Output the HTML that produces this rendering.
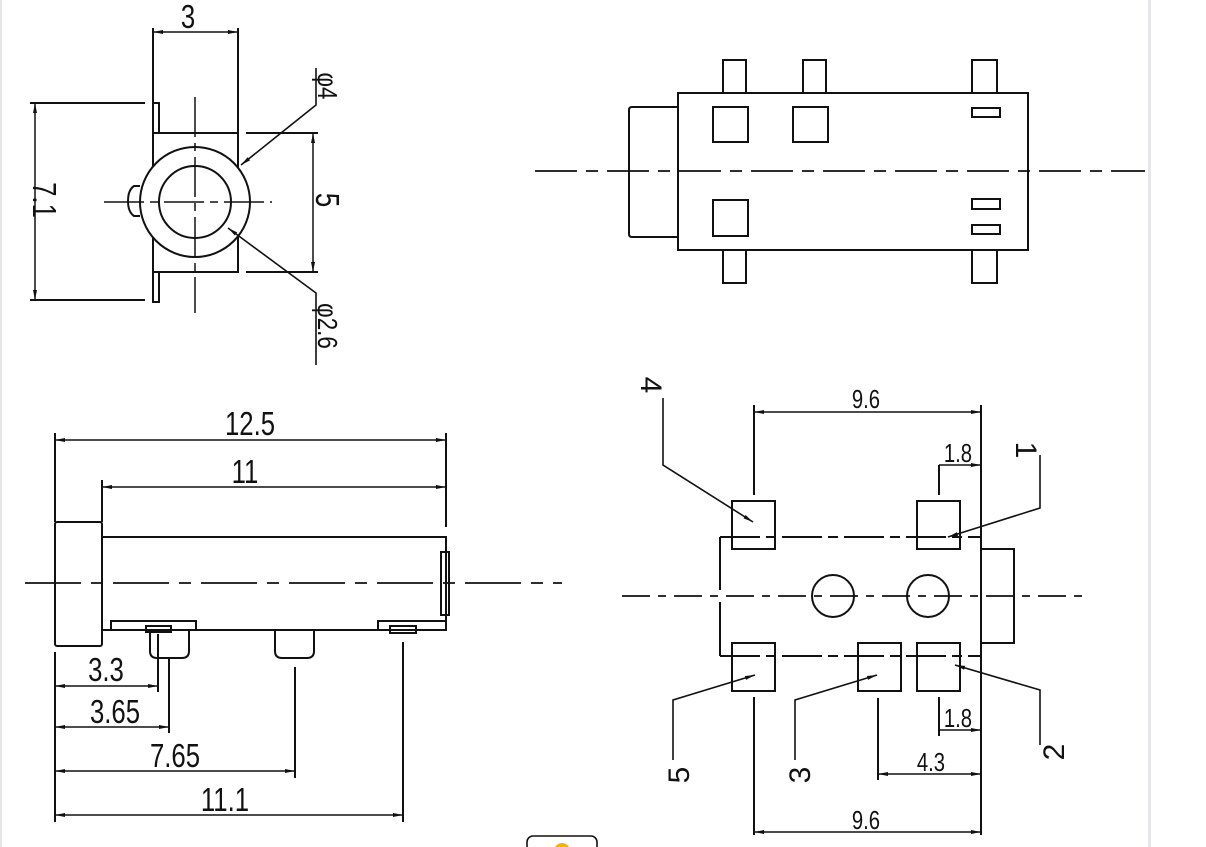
<!DOCTYPE html>
<html><head><meta charset="utf-8"><style>
html,body{margin:0;padding:0;background:#fff;}
svg{display:block;}
text{font-family:"Liberation Sans",sans-serif;fill:#111;}
</style></head><body>
<svg width="1206" height="847" viewBox="0 0 1206 847" xmlns="http://www.w3.org/2000/svg">
<defs>
<marker id="a" viewBox="0 0 10 6" refX="10" refY="3" markerWidth="11" markerHeight="6" orient="auto-start-reverse" markerUnits="userSpaceOnUse"><path d="M0,1 L10,3 L0,5 z" fill="#111"/></marker>
</defs>
<rect x="0" y="0" width="2" height="847" fill="#e6e6e8"/>
<rect x="1148" y="0" width="3" height="847" fill="#e6e6e8"/>
<g stroke="#111" stroke-width="2" fill="none">
<!-- TOP LEFT -->
<rect x="153" y="133" width="85" height="139"/>
<rect x="153" y="103" width="6" height="30"/>
<rect x="153" y="272" width="6" height="30"/>
<circle cx="195" cy="202" r="55" fill="#fff"/>
<circle cx="195" cy="202" r="36"/>
<path d="M140,186 L134,186 Q128,190 128,201 Q128,212 134,216 L140,216"/>
<path d="M195,97 V313 M104,202 H272" stroke-width="1.5" stroke-dasharray="40,6,8,6"/>
<path d="M153,28 V103 M238,28 V133"/>
<path d="M153,32 H238" marker-start="url(#a)" marker-end="url(#a)" stroke-width="1.5"/>
<path d="M30,103 H145 M30,300 H145"/>
<path d="M35,103 V300" marker-start="url(#a)" marker-end="url(#a)" stroke-width="1.5"/>
<path d="M246,133 H318 M246,272 H318"/>
<path d="M313,133 V272" marker-start="url(#a)" marker-end="url(#a)" stroke-width="1.5"/>
<path d="M241,165 L316,105 V68" marker-start="url(#a)" stroke-width="1.6"/>
<path d="M228,228 L316,293 V365" marker-start="url(#a)" stroke-width="1.6"/>
<!-- TOP RIGHT -->
<rect x="678" y="93" width="350" height="157"/>
<path d="M678,107 H632 Q629,107 629,110 V234 Q629,237 632,237 H678"/>
<rect x="723" y="60" width="23" height="33"/>
<rect x="803" y="60" width="23" height="33"/>
<rect x="972" y="60" width="25" height="33"/>
<rect x="723" y="250" width="23" height="33"/>
<rect x="972" y="250" width="25" height="33"/>
<rect x="713" y="107" width="35" height="35"/>
<rect x="793" y="107" width="35" height="35"/>
<rect x="713" y="200" width="35" height="36"/>
<rect x="972" y="108" width="28" height="9"/>
<rect x="972" y="199" width="28" height="10"/>
<rect x="972" y="225" width="28" height="9"/>
<path d="M535,171 H1145" stroke-width="1.8" stroke-dasharray="42,9,12,9"/>
<!-- BOTTOM LEFT -->
<rect x="55" y="522" width="47" height="124" rx="2"/>
<rect x="102" y="537" width="344" height="93"/>
<rect x="441" y="552" width="8" height="63"/>
<rect x="111" y="621" width="85" height="9"/>
<rect x="146" y="626" width="25" height="6"/>
<path d="M150,630 V651 Q150,658 157,658 H182 Q189,658 189,651 V630"/>
<path d="M275,630 V651 Q275,658 282,658 H307 Q314,658 314,651 V630"/>
<path d="M378,630 V621 H446"/>
<rect x="390" y="626" width="26" height="7"/>
<path d="M25,583 H562" stroke-width="1.8" stroke-dasharray="56,10,12,10"/>
<path d="M55,433 V522 M446,433 V527 M102,480 V522"/>
<path d="M55,440 H446" marker-start="url(#a)" marker-end="url(#a)" stroke-width="1.5"/>
<path d="M102,487 H446" marker-start="url(#a)" marker-end="url(#a)" stroke-width="1.5"/>
<path d="M55,652 V822 M158,634 V692 M169,658 V733 M295,667 V778 M403,642 V822"/>
<path d="M55,686 H158" marker-start="url(#a)" marker-end="url(#a)" stroke-width="1.5"/>
<path d="M55,727 H169" marker-start="url(#a)" marker-end="url(#a)" stroke-width="1.5"/>
<path d="M55,771 H295" marker-start="url(#a)" marker-end="url(#a)" stroke-width="1.5"/>
<path d="M55,815 H403" marker-start="url(#a)" marker-end="url(#a)" stroke-width="1.5"/>
<!-- BOTTOM RIGHT -->
<path d="M720,537 V590 M720,602 V656"/>
<path d="M720,537 H981 M720,656 H981" stroke-dasharray="40,6,10,6"/>
<path d="M981,549 H1014 V643 H981"/>
<rect x="732" y="501" width="43" height="48"/>
<rect x="917" y="501" width="43" height="48"/>
<rect x="732" y="643" width="43" height="48"/>
<rect x="858" y="643" width="43" height="48"/>
<rect x="917" y="643" width="43" height="48"/>
<circle cx="833" cy="596" r="21"/>
<circle cx="928" cy="596" r="21"/>
<path d="M622,596 H1090" stroke-width="1.8" stroke-dasharray="28,8,8,8"/>
<path d="M754,405 V495 M981,405 V835 M939,465 V495"/>
<path d="M754,412 H981" marker-start="url(#a)" marker-end="url(#a)" stroke-width="1.5"/>
<path d="M939,465 H981" marker-end="url(#a)" stroke-width="1.5"/>
<path d="M939,697 V736 M878,698 V780 M754,697 V835"/>
<path d="M939,730 H981" marker-end="url(#a)" stroke-width="1.5"/>
<path d="M878,774 H981" marker-start="url(#a)" marker-end="url(#a)" stroke-width="1.5"/>
<path d="M754,832 H981" marker-start="url(#a)" marker-end="url(#a)" stroke-width="1.5"/>
<path d="M663,398 V465 L753,522" marker-end="url(#a)" stroke-width="1.6"/>
<path d="M1040,455 V508 L948,537" marker-end="url(#a)" stroke-width="1.6"/>
<path d="M673,760 V700 L755,675" marker-end="url(#a)" stroke-width="1.6"/>
<path d="M795,760 V700 L877,675" marker-end="url(#a)" stroke-width="1.6"/>
<path d="M1040,745 V690 L955,665" marker-end="url(#a)" stroke-width="1.6"/>
<!-- icon -->
<rect x="527" y="836" width="70" height="20" rx="6" stroke-width="1.6"/>
</g>
<circle cx="562" cy="851" r="8" fill="#f4b400"/>
<g font-size="33">
<text x="188" y="28" text-anchor="middle" transform="translate(188,0) scale(0.78,1) translate(-188,0)">3</text>
<text x="250" y="435" text-anchor="middle" transform="translate(250,0) scale(0.78,1) translate(-250,0)">12.5</text>
<text x="245" y="483" text-anchor="middle" transform="translate(245,0) scale(0.78,1) translate(-245,0)">11</text>
<text x="106" y="681" text-anchor="middle" transform="translate(106,0) scale(0.78,1) translate(-106,0)">3.3</text>
<text x="115" y="723" text-anchor="middle" transform="translate(115,0) scale(0.78,1) translate(-115,0)">3.65</text>
<text x="175" y="767" text-anchor="middle" transform="translate(175,0) scale(0.78,1) translate(-175,0)">7.65</text>
<text x="225" y="811" text-anchor="middle" transform="translate(225,0) scale(0.78,1) translate(-225,0)">11.1</text>
<text text-anchor="middle" transform="translate(33,200) rotate(90) scale(0.78,1)">7.1</text>
<text text-anchor="middle" transform="translate(316,200) rotate(90) scale(0.78,1)">5</text>
</g>
<g font-size="28">
<text text-anchor="middle" transform="translate(318,86) rotate(90) scale(0.8,1)">φ4</text>
<text text-anchor="middle" transform="translate(318,326) rotate(90) scale(0.8,1)">φ2.6</text>
</g>
<g font-size="26">
<text x="866" y="408" text-anchor="middle" transform="translate(866,0) scale(0.78,1) translate(-866,0)">9.6</text>
<text x="958" y="462" text-anchor="middle" transform="translate(958,0) scale(0.78,1) translate(-958,0)">1.8</text>
<text x="958" y="727" text-anchor="middle" transform="translate(958,0) scale(0.78,1) translate(-958,0)">1.8</text>
<text x="931" y="771" text-anchor="middle" transform="translate(931,0) scale(0.78,1) translate(-931,0)">4.3</text>
<text x="866" y="829" text-anchor="middle" transform="translate(866,0) scale(0.78,1) translate(-866,0)">9.6</text>
</g>
<g font-size="30">
<text text-anchor="middle" transform="translate(641,385) rotate(90)">4</text>
<text text-anchor="middle" transform="translate(1016,450) rotate(90)">1</text>
<text text-anchor="middle" transform="translate(689,775) rotate(-90)">5</text>
<text text-anchor="middle" transform="translate(810,775) rotate(-90)">3</text>
<text text-anchor="middle" transform="translate(1064,752) rotate(-90)">2</text>
</g>
</svg>
</body></html>
